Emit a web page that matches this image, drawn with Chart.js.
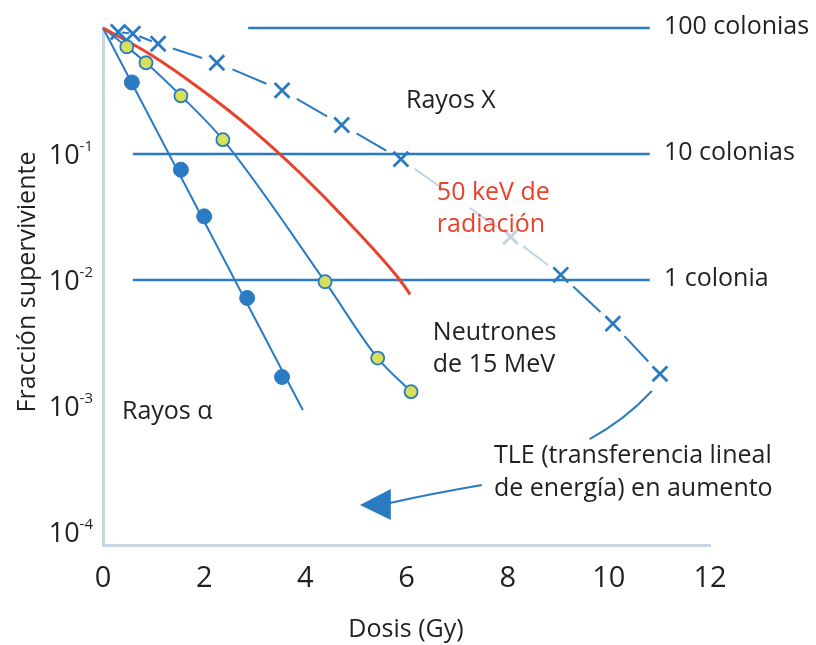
<!DOCTYPE html>
<html>
<head>
<meta charset="utf-8">
<script src="https://cdn.jsdelivr.net/npm/chart.js@4"></script>
<style>
  html, body { margin: 0; padding: 0; background: #fff; }
  #wrap { width: 816px; height: 645px; }
</style>
</head>
<body>
<div id="wrap"><canvas id="survivalChart" width="816" height="645"></canvas></div>
<script>
// Dose (Gy) vs surviving fraction
const alphaDose = [0.57, 1.54, 2.0, 2.85, 3.54];
const alphaSurv = [0.37, 0.075, 0.032, 0.0072, 0.0017];
const alphaFitDose = [0, 3.95];
const alphaFitSurv = [1, 0.00093];

const neutronDose = [0.47, 0.85, 1.54, 2.37, 4.39, 5.43, 6.09];
const neutronSurv = [0.71, 0.53, 0.29, 0.13, 0.0097, 0.0024, 0.0013];

const xrayDose = [0.30, 0.59, 1.09, 2.25, 3.54, 4.72, 5.89, 8.06, 9.05, 10.08, 11.01];
const xraySurv = [0.93, 0.90, 0.75, 0.53, 0.32, 0.17, 0.091, 0.022, 0.011, 0.0045, 0.0018];

const kevDose = [0, 0.93, 1.92, 2.96, 3.89, 4.88, 5.87, 6.07];
const kevSurv = [1, 0.62, 0.33, 0.155, 0.071, 0.028, 0.010, 0.0077];

const colonyLevels = [1, 0.1, 0.01];
const colonyLabels = ['100 colonias', '10 colonias', '1 colonia'];
const colonyFrom = [2.87, 0.59, 0.59];
const colonyTo = [10.81, 10.81, 10.81];

const xTicks = [0, 2, 4, 6, 8, 10, 12];
const yTickExps = [-1, -2, -3, -4];

const blue = '#2b7bc2';
const faded = '#c4d3df';
const yellow = '#d6e05a';
const red = '#e8412c';
const ink = '#231f20';
const axisGrey = '#c8d6e1';
const FONT = '"Open Sans", "Noto Sans", sans-serif';

const pts = (xs, ys) => xs.map((x, i) => ({ x: x, y: ys[i] }));

// one centred dash per segment, leaving a gap round each marker
function xrayDash(ctx) {
    const len = Math.hypot(ctx.p1.x - ctx.p0.x, ctx.p1.y - ctx.p0.y);
    const n = Math.max(1, Math.round(len / 60));
    const part = len / n;
    const gap = Math.min(17, part * 0.25);
    const dash = Math.max(0, part - 2 * gap);
    const pattern = [0, gap];
    for (let i = 0; i < n; i++) pattern.push(dash, i < n - 1 ? 2 * gap : gap + 1000);
    return pattern;
}

const datasets = [];

colonyLevels.forEach((lvl, i) => {
    datasets.push({
        data: [{ x: colonyFrom[i], y: lvl }, { x: colonyTo[i], y: lvl }],
        borderColor: blue, borderWidth: 2.5, pointRadius: 0, order: 10, clip: false
    });
});

datasets.push({
    data: pts(alphaFitDose, alphaFitSurv),
    borderColor: blue, borderWidth: 2, pointRadius: 0, order: 5, clip: false
});
datasets.push({
    data: pts([0].concat(neutronDose), [1].concat(neutronSurv)),
    borderColor: blue, borderWidth: 2, pointRadius: 0, order: 5,
    cubicInterpolationMode: 'monotone', clip: false
});
datasets.push({
    data: pts(kevDose, kevSurv),
    borderColor: red, borderWidth: 3, pointRadius: 0, order: 4,
    cubicInterpolationMode: 'monotone', clip: false
});
datasets.push({
    data: pts(xrayDose, xraySurv),
    borderColor: blue, borderWidth: 2, order: 3, clip: false,
    pointStyle: 'crossRot', pointRadius: 10.5, pointBorderWidth: 2.8,
    pointBorderColor: xrayDose.map((d, i) => i === 7 ? faded : blue),
    segment: {
        borderDash: xrayDash,
        borderColor: ctx => (ctx.p0DataIndex === 6 || ctx.p0DataIndex === 7) ? faded : blue
    }
});
datasets.push({
    data: pts(alphaDose, alphaSurv),
    showLine: false, pointRadius: 7.5, pointBackgroundColor: blue,
    pointBorderColor: blue, pointBorderWidth: 1, order: 1, clip: false
});
datasets.push({
    data: pts(neutronDose, neutronSurv),
    showLine: false, pointRadius: 6.5, pointBackgroundColor: yellow,
    pointBorderColor: blue, pointBorderWidth: 1.8, order: 1, clip: false
});

// text placed in data units: dose, log10(fraction)
const notes = [
    { text: 'Rayos X', x: 5.99, e: -0.58, color: ink },
    { text: '50 keV de', x: 6.6, e: -1.31, color: red },
    { text: 'radiación', x: 6.6, e: -1.56, color: red },
    { text: 'Neutrones', x: 6.52, e: -2.42, color: ink },
    { text: 'de 15 MeV', x: 6.52, e: -2.675, color: ink },
    { text: 'Rayos α', x: 0.375, e: -3.05, color: ink },
    { text: 'TLE (transferencia lineal', x: 7.73, e: -3.397, color: ink },
    { text: 'de energía) en aumento', x: 7.73, e: -3.659, color: ink }
];

const annotate = {
    id: 'annotate',
    afterDraw(chart) {
        const { ctx, scales: { x, y } } = chart;
        const px = v => x.getPixelForValue(v);
        const py = e => y.getPixelForValue(Math.pow(10, e));
        ctx.save();
        ctx.textBaseline = 'middle';
        ctx.textAlign = 'left';
        ctx.font = '25px ' + FONT;

        colonyLabels.forEach((t, i) => {
            ctx.fillStyle = ink;
            ctx.fillText(t, px(11.09), y.getPixelForValue(colonyLevels[i]) - 1);
        });
        notes.forEach(n => {
            ctx.fillStyle = n.color;
            ctx.fillText(n.text, px(n.x), py(n.e));
        });

        // y tick labels with superscript exponent
        ctx.fillStyle = ink;
        ctx.textAlign = 'right';
        yTickExps.forEach(e => {
            const yy = py(e) + 2;
            ctx.font = '15px ' + FONT;
            const sup = String(e);
            const w = ctx.measureText(sup).width;
            ctx.fillText(sup, 93, yy - 9);
            ctx.font = '27px ' + FONT;
            ctx.fillText('10', 93 - w, yy);
        });

        // axis titles
        ctx.font = '25px ' + FONT;
        ctx.textAlign = 'center';
        ctx.fillText('Dosis (Gy)', 406, 630);
        ctx.save();
        ctx.translate(28, 282);
        ctx.rotate(-Math.PI / 2);
        ctx.fillText('Fracción superviviente', 0, 0);
        ctx.restore();

        // connector from last X-ray mark and arrow
        ctx.strokeStyle = blue;
        ctx.fillStyle = blue;
        ctx.lineWidth = 2;
        ctx.beginPath();
        ctx.moveTo(px(10.85), py(-2.881));
        ctx.quadraticCurveTo(px(10.32), py(-3.111), px(9.62), py(-3.262));
        ctx.stroke();
        ctx.beginPath();
        ctx.moveTo(px(7.49), py(-3.627));
        ctx.quadraticCurveTo(px(6.46), py(-3.698), px(5.67), py(-3.77));
        ctx.stroke();
        ctx.beginPath();
        ctx.moveTo(px(5.08), py(-3.786));
        ctx.lineTo(px(5.69), py(-3.659));
        ctx.lineTo(px(5.69), py(-3.905));
        ctx.closePath();
        ctx.fill();
        ctx.restore();
    }
};

new Chart(document.getElementById('survivalChart'), {
    type: 'line',
    data: { datasets: datasets },
    plugins: [annotate],
    options: {
        responsive: false,
        animation: false,
        layout: { padding: { left: 0, top: 28, right: 106, bottom: 0 } },
        plugins: { legend: { display: false }, tooltip: { enabled: false } },
        scales: {
            x: {
                type: 'linear', min: 0, max: 12,
                afterBuildTicks: s => { s.ticks = xTicks.map(v => ({ value: v })); },
                afterFit: s => { s.height = 100; },
                grid: { color: 'transparent', drawTicks: false },
                border: { display: true, color: axisGrey, width: 3 },
                ticks: { color: ink, padding: 16, font: { family: FONT, size: 29 } }
            },
            y: {
                type: 'logarithmic', min: Math.pow(10, -4.103), max: 1,
                afterBuildTicks: s => { s.ticks = yTickExps.map(e => ({ value: Math.pow(10, e) })); },
                afterFit: s => { s.width = 103; },
                grid: { color: 'transparent', drawTicks: false },
                border: { display: true, color: axisGrey, width: 3 },
                ticks: { display: false }
            }
        }
    }
});
</script>
</body>
</html>
